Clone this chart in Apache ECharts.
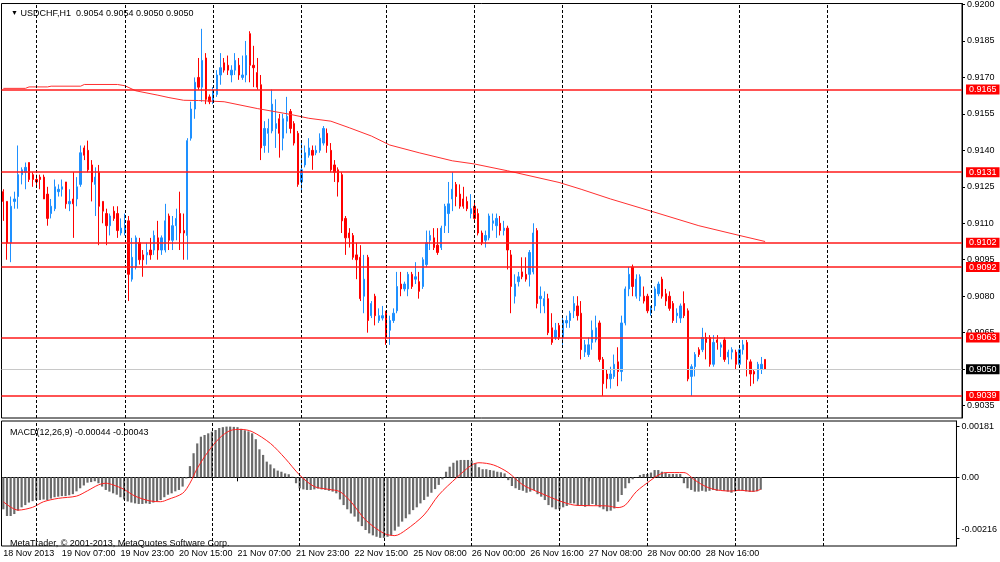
<!DOCTYPE html>
<html>
<head>
<meta charset="utf-8">
<title>USDCHF,H1</title>
<script src="https://cdn.jsdelivr.net/npm/echarts@6.0.0/dist/echarts.min.js"></script>
<style>
html, body { margin: 0; padding: 0; background: #fff; }
#chart { width: 1000px; height: 562px; }
</style>
</head>
<body>
<div id="chart"></div>
<script>
// USDCHF H1, 18 Nov 15:00 .. 29 Nov 2013

var opens = [
	0.9123,0.9119,0.9102,0.9119,0.9121,0.9130,0.9131,0.9135,0.9130,0.9128,
	0.9129,0.9129,0.9122,0.9114,0.9116,0.9123,0.9124,0.9127,0.9118,0.9120,
	0.9120,0.9126,0.9141,0.9140,0.9134,0.9126,0.9131,0.9119,0.9114,0.9109,
	0.9115,0.9114,0.9106,0.9106,0.9111,0.9087,0.9092,0.9102,0.9097,0.9097,
	0.9099,0.9099,0.9104,0.9099,0.9099,0.9113,0.9103,0.9109,0.9114,0.9107,
	0.9105,0.9145,0.9157,0.9170,0.9166,0.9178,0.9162,0.9160,0.9163,0.9171,
	0.9176,0.9175,0.9171,0.9173,0.9175,0.9170,0.9171,0.9188,0.9175,0.9172,
	0.9167,0.9142,0.9147,0.9148,0.9149,0.9153,0.9145,0.9152,0.9156,0.9151,
	0.9147,0.9127,0.9134,0.9138,0.9140,0.9139,0.9140,0.9143,0.9147,0.9140,
	0.9134,0.9132,0.9130,0.9112,0.9106,0.9105,0.9097,0.9096,0.9080,0.9096,
	0.9072,0.9080,0.9070,0.9071,0.9073,0.9066,0.9070,0.9074,0.9085,0.9083,
	0.9083,0.9089,0.9087,0.9086,0.9084,0.9093,0.9103,0.9104,0.9101,0.9100,
	0.9109,0.9114,0.9120,0.9126,0.9122,0.9120,0.9119,0.9114,0.9117,0.9114,
	0.9106,0.9103,0.9104,0.9110,0.9109,0.9110,0.9107,0.9108,0.9097,0.9080,
	0.9086,0.9090,0.9089,0.9089,0.9090,0.9107,0.9079,0.9076,0.9079,0.9067,
	0.9063,0.9068,0.9063,0.9069,0.9070,0.9074,0.9076,0.9073,0.9057,0.9056,
	0.9061,0.9062,0.9069,0.9054,0.9048,0.9046,0.9047,0.9053,0.9049,0.9069,
	0.9083,0.9092,0.9080,0.9080,0.9080,0.9080,0.9073,0.9076,0.9081,0.9087,
	0.9081,0.9080,0.9077,0.9072,0.9071,0.9077,0.9074,0.9047,0.9051,0.9058,
	0.9058,0.9063,0.9063,0.9052,0.9062,0.9059,0.9062,0.9055,0.9057,0.9057,
	0.9052,0.9058,0.9061,0.9053,0.9049,0.9046,0.9050,0.9054
];
var closes = [
	0.9119,0.9102,0.9117,0.9120,0.9130,0.9132,0.9133,0.9128,0.9128,0.9127,
	0.9128,0.9120,0.9112,0.9117,0.9125,0.9124,0.9125,0.9118,0.9119,0.9118,
	0.9125,0.9139,0.9138,0.9132,0.9127,0.9129,0.9117,0.9115,0.9109,0.9113,
	0.9112,0.9107,0.9108,0.9109,0.9089,0.9096,0.9104,0.9095,0.9095,0.9098,
	0.9097,0.9105,0.9099,0.9104,0.9111,0.9103,0.9109,0.9112,0.9106,0.9106,
	0.9144,0.9157,0.9168,0.9166,0.9177,0.9161,0.9160,0.9164,0.9171,0.9174,
	0.9173,0.9173,0.9173,0.9177,0.9171,0.9171,0.9179,0.9175,0.9174,0.9166,
	0.9141,0.9149,0.9149,0.9159,0.9151,0.9147,0.9153,0.9154,0.9149,0.9143,
	0.9126,0.9132,0.9139,0.9141,0.9138,0.9140,0.9145,0.9149,0.9142,0.9132,
	0.9131,0.9127,0.9111,0.9104,0.9104,0.9096,0.9095,0.9079,0.9087,0.9070,
	0.9077,0.9072,0.9072,0.9072,0.9064,0.9070,0.9073,0.9084,0.9083,0.9085,
	0.9089,0.9084,0.9088,0.9082,0.9095,0.9102,0.9105,0.9100,0.9098,0.9108,
	0.9117,0.9118,0.9124,0.9121,0.9117,0.9117,0.9116,0.9116,0.9112,0.9106,
	0.9102,0.9105,0.9113,0.9111,0.9112,0.9107,0.9108,0.9099,0.9084,0.9085,
	0.9088,0.9088,0.9087,0.9098,0.9106,0.9077,0.9080,0.9079,0.9065,0.9061,
	0.9066,0.9063,0.9070,0.9070,0.9073,0.9077,0.9072,0.9058,0.9060,0.9060,
	0.9066,0.9067,0.9054,0.9044,0.9046,0.9048,0.9052,0.9049,0.9069,0.9083,
	0.9089,0.9084,0.9087,0.9088,0.9078,0.9074,0.9075,0.9083,0.9085,0.9080,
	0.9078,0.9075,0.9070,0.9073,0.9076,0.9072,0.9046,0.9051,0.9056,0.9056,
	0.9063,0.9061,0.9052,0.9061,0.9061,0.9060,0.9054,0.9057,0.9058,0.9052,
	0.9058,0.9060,0.9054,0.9048,0.9048,0.9052,0.9052,0.9050
];
var lows = [
	0.9111,0.9095,0.9094,0.9116,0.9116,0.9126,0.9124,0.9127,0.9125,0.9125,
	0.9124,0.9120,0.9109,0.9112,0.9115,0.9121,0.9121,0.9116,0.9115,0.9104,
	0.9117,0.9125,0.9136,0.9131,0.9119,0.9113,0.9101,0.9110,0.9101,0.9105,
	0.9111,0.9104,0.9105,0.9105,0.9078,0.9086,0.9091,0.9093,0.9088,0.9093,
	0.9095,0.9097,0.9095,0.9097,0.9098,0.9099,0.9099,0.9103,0.9099,0.9095,
	0.9095,0.9144,0.9153,0.9165,0.9160,0.9159,0.9159,0.9159,0.9162,0.9167,
	0.9172,0.9171,0.9168,0.9171,0.9169,0.9169,0.9168,0.9168,0.9166,0.9165,
	0.9136,0.9139,0.9139,0.9147,0.9141,0.9137,0.9140,0.9147,0.9147,0.9142,
	0.9125,0.9123,0.9133,0.9137,0.9132,0.9138,0.9139,0.9142,0.9139,0.9131,
	0.9127,0.9121,0.9106,0.9097,0.9100,0.9095,0.9087,0.9078,0.9073,0.9065,
	0.9071,0.9068,0.9069,0.9070,0.9060,0.9060,0.9069,0.9073,0.9080,0.9082,
	0.9080,0.9083,0.9085,0.9079,0.9083,0.9092,0.9099,0.9099,0.9097,0.9099,
	0.9106,0.9106,0.9115,0.9117,0.9116,0.9116,0.9115,0.9112,0.9111,0.9105,
	0.9101,0.9100,0.9103,0.9107,0.9104,0.9105,0.9105,0.9091,0.9073,0.9077,
	0.9084,0.9087,0.9086,0.9084,0.9089,0.9075,0.9073,0.9073,0.9064,0.9060,
	0.9062,0.9062,0.9060,0.9067,0.9067,0.9071,0.9070,0.9054,0.9055,0.9055,
	0.9058,0.9061,0.9053,0.9039,0.9042,0.9042,0.9046,0.9043,0.9045,0.9068,
	0.9080,0.9080,0.9079,0.9078,0.9077,0.9073,0.9072,0.9074,0.9080,0.9079,
	0.9076,0.9074,0.9069,0.9069,0.9069,0.9071,0.9045,0.9039,0.9047,0.9055,
	0.9057,0.9054,0.9051,0.9051,0.9058,0.9055,0.9053,0.9052,0.9054,0.9050,
	0.9051,0.9056,0.9047,0.9043,0.9044,0.9045,0.9048,0.9050
];
var highs = [
	0.9124,0.9119,0.9121,0.9123,0.9142,0.9133,0.9135,0.9135,0.9131,0.9130,
	0.9130,0.9130,0.9125,0.9120,0.9128,0.9126,0.9128,0.9127,0.9124,0.9131,
	0.9129,0.9142,0.9142,0.9144,0.9136,0.9133,0.9134,0.9119,0.9116,0.9114,
	0.9117,0.9117,0.9112,0.9114,0.9113,0.9104,0.9105,0.9104,0.9099,0.9102,
	0.9104,0.9107,0.9111,0.9105,0.9118,0.9114,0.9113,0.9116,0.9123,0.9114,
	0.9145,0.9160,0.9170,0.9178,0.9190,0.9180,0.9163,0.9166,0.9173,0.9180,
	0.9178,0.9179,0.9175,0.9180,0.9178,0.9179,0.9185,0.9189,0.9183,0.9178,
	0.9171,0.9152,0.9153,0.9165,0.9161,0.9155,0.9155,0.9162,0.9157,0.9152,
	0.9148,0.9143,0.9142,0.9145,0.9142,0.9142,0.9147,0.9150,0.9149,0.9143,
	0.9136,0.9133,0.9131,0.9113,0.9108,0.9106,0.9102,0.9101,0.9097,0.9097,
	0.9078,0.9081,0.9075,0.9076,0.9074,0.9072,0.9075,0.9090,0.9090,0.9086,
	0.9090,0.9090,0.9094,0.9090,0.9096,0.9107,0.9107,0.9108,0.9108,0.9109,
	0.9118,0.9127,0.9131,0.9127,0.9126,0.9125,0.9121,0.9122,0.9119,0.9116,
	0.9107,0.9107,0.9114,0.9114,0.9114,0.9113,0.9111,0.9109,0.9099,0.9089,
	0.9090,0.9096,0.9096,0.9099,0.9110,0.9108,0.9084,0.9082,0.9081,0.9073,
	0.9069,0.9069,0.9071,0.9072,0.9074,0.9080,0.9080,0.9078,0.9062,0.9063,
	0.9070,0.9072,0.9070,0.9055,0.9050,0.9051,0.9056,0.9059,0.9072,0.9084,
	0.9092,0.9093,0.9089,0.9089,0.9084,0.9081,0.9076,0.9084,0.9086,0.9088,
	0.9083,0.9082,0.9078,0.9075,0.9077,0.9082,0.9075,0.9052,0.9057,0.9059,
	0.9067,0.9065,0.9064,0.9064,0.9064,0.9061,0.9063,0.9058,0.9059,0.9058,
	0.9060,0.9062,0.9062,0.9054,0.9050,0.9053,0.9055,0.9054
];

// moving average, read at these bars
var maIdx = [0, 6, 7, 12, 13, 21, 22, 31, 33, 36, 42, 45, 49, 53, 60, 69, 78, 83, 89, 94,
	100, 105, 113, 122, 128, 137, 151, 157, 165, 176, 189, 200, 207];
var maVal = [0.91655, 0.91655, 0.91661, 0.91661, 0.91664, 0.91664, 0.91671, 0.91671, 0.91666, 0.91645,
	0.91627, 0.91617, 0.91606, 0.91605, 0.91600, 0.91572, 0.91548, 0.91532, 0.91520, 0.91493,
	0.91459, 0.91422, 0.91390, 0.91357, 0.91344, 0.91316, 0.91268, 0.91240, 0.91200, 0.91150,
	0.91090, 0.91050, 0.91025];

// MACD(12,26,9) main line as histogram
var macdHist = [
	-0.00114,-0.00138,-0.00138,-0.00131,-0.00119,-0.00107,-0.00099,-0.00090,-0.00085,-0.00081,
	-0.00081,-0.00079,-0.00081,-0.00076,-0.00071,-0.00069,-0.00067,-0.00067,-0.00064,-0.00060,
	-0.00050,-0.00039,-0.00029,-0.00019,-0.00017,-0.00014,-0.00021,-0.00033,-0.00045,-0.00051,
	-0.00057,-0.00062,-0.00071,-0.00079,-0.00086,-0.00090,-0.00093,-0.00095,-0.00095,-0.00093,
	-0.00095,-0.00090,-0.00086,-0.00081,-0.00071,-0.00062,-0.00057,-0.00050,-0.00045,-0.00033,
	-0.00004,0.00040,0.00086,0.00121,0.00145,0.00151,0.00157,0.00163,0.00169,0.00176,
	0.00179,0.00181,0.00181,0.00180,0.00179,0.00173,0.00168,0.00164,0.00157,0.00136,
	0.00100,0.00080,0.00056,0.00046,0.00032,0.00024,0.00020,0.00014,0.00011,0.00002,
	-0.00021,-0.00039,-0.00043,-0.00045,-0.00045,-0.00043,-0.00040,-0.00043,-0.00045,-0.00048,
	-0.00051,-0.00057,-0.00079,-0.00099,-0.00114,-0.00129,-0.00140,-0.00158,-0.00174,-0.00188,
	-0.00200,-0.00207,-0.00212,-0.00216,-0.00216,-0.00212,-0.00206,-0.00190,-0.00176,-0.00158,
	-0.00146,-0.00132,-0.00117,-0.00107,-0.00093,-0.00081,-0.00069,-0.00055,-0.00042,-0.00027,
	-0.00007,0.00020,0.00038,0.00052,0.00060,0.00062,0.00062,0.00062,0.00060,0.00050,
	0.00036,0.00029,0.00029,0.00026,0.00024,0.00020,0.00018,0.00014,-0.00010,-0.00031,
	-0.00039,-0.00045,-0.00048,-0.00055,-0.00051,-0.00045,-0.00060,-0.00069,-0.00081,-0.00099,
	-0.00107,-0.00114,-0.00114,-0.00107,-0.00102,-0.00093,-0.00093,-0.00102,-0.00102,-0.00105,
	-0.00102,-0.00095,-0.00099,-0.00107,-0.00114,-0.00121,-0.00119,-0.00111,-0.00087,-0.00063,
	-0.00039,-0.00021,-0.00007,0.00001,0.00008,0.00012,0.00012,0.00017,0.00026,0.00026,
	0.00020,0.00017,0.00012,0.00012,0.00012,0.00012,-0.00021,-0.00039,-0.00045,-0.00051,
	-0.00051,-0.00048,-0.00051,-0.00048,-0.00045,-0.00048,-0.00045,-0.00048,-0.00051,-0.00055,
	-0.00050,-0.00048,-0.00048,-0.00050,-0.00052,-0.00052,-0.00050,-0.00044
];

// signal line, read at these bars
var sigIdx = [0, 4, 8, 11, 15, 20, 23, 26, 28, 30, 33, 36, 40, 43, 45, 49, 51, 53, 56, 59,
	62, 65, 68, 73, 77, 81, 85, 89, 92, 95, 99, 104, 107, 110, 115, 119, 124, 128, 130, 134,
	138, 142, 147, 152, 156, 160, 165, 168, 170, 173, 177, 179, 181, 186, 189, 192, 195, 199, 201, 205, 207];
var sigVal = [-0.00087, -0.00117, -0.00107, -0.00087, -0.00075, -0.00067, -0.00048, -0.00027, -0.00021, -0.00027,
	-0.00043, -0.00067, -0.00084, -0.00087, -0.00079, -0.00057, -0.00021, 0.00032, 0.00092, 0.00139,
	0.00167, 0.00171, 0.00163, 0.00121, 0.00068, 0.00008, -0.00033, -0.00043, -0.00051, -0.00087,
	-0.00152, -0.00200, -0.00208, -0.00188, -0.00134, -0.00063, 0.00000, 0.00044, 0.00052, 0.00044,
	0.00017, -0.00027, -0.00057, -0.00084, -0.00099, -0.00101, -0.00102, -0.00108, -0.00099, -0.00051,
	-0.00010, 0.00008, 0.00017, 0.00017, -0.00010, -0.00033, -0.00045, -0.00049, -0.00046, -0.00050, -0.00043];

var levels = [0.9165, 0.9131, 0.9102, 0.9092, 0.9063, 0.9039];
var bid = 0.9050;
var priceTicks = [0.9200, 0.9185, 0.9170, 0.9155, 0.9140, 0.9125, 0.9110, 0.9095, 0.9080, 0.9065, 0.9050, 0.9035];
var macdTicks = [0.00181, 0, -0.00216];
var daySeps = [9, 33, 57, 81, 104, 128, 152, 176, 200, 224];
var timeLabels = ['18 Nov 2013', '19 Nov 07:00', '19 Nov 23:00', '20 Nov 15:00', '21 Nov 07:00',
	'21 Nov 23:00', '22 Nov 15:00', '25 Nov 08:00', '26 Nov 00:00', '26 Nov 16:00',
	'27 Nov 08:00', '28 Nov 00:00', '28 Nov 16:00'];
var labelStep = 16;
var slotCount = 261; // bars plus empty space to the right

var slots = [];
for (var i = 0; i < slotCount; i++) {
	slots.push(i);
}
var candles = opens.map(function(o, i) {
	return [o, closes[i], lows[i], highs[i]];
});
var maData = maIdx.map(function(x, i) { return [x, maVal[i]]; });
var sigData = sigIdx.map(function(x, i) { return [x, sigVal[i]]; });

var font = 'Liberation Sans';
var sepLine = { color: '#000', width: 1, type: [3, 2] };

//horizontal levels go on the MA line series, day separators on the candles
var levelMarks = levels.map(function(v) {
	return {
		yAxis: v,
		lineStyle: { color: '#ff1a1a', width: 1.5, type: 'solid' },
		label: { show: true, position: 'end', distance: 4, formatter: v.toFixed(4),
			color: '#fff', backgroundColor: '#ff0000', padding: [1, 3, 0, 3],
			fontFamily: font, fontSize: 9 }
	};
});
levelMarks.unshift({
	yAxis: bid,
	lineStyle: { color: '#c8c8c8', width: 1, type: 'solid' },
	label: { show: true, position: 'end', distance: 4, formatter: bid.toFixed(4),
		color: '#fff', backgroundColor: '#000', padding: [1, 3, 0, 3],
		fontFamily: font, fontSize: 9 }
});
var sepMarks = daySeps.map(function(x) {
	return { xAxis: x, lineStyle: sepLine, label: { show: false } };
});

var chart = echarts.init(document.getElementById('chart'), null, { renderer: 'canvas' });
chart.setOption({
	animation: false,
	backgroundColor: '#fff',
	title: [{
		text: '{t|▼} USDCHF,H1  0.9054 0.9054 0.9050 0.9050',
		left: 6, top: 4,
		textStyle: { fontFamily: font, fontSize: 9, fontWeight: 'normal', color: '#000',
			rich: { t: { fontSize: 7, color: '#000' } } }
	}, {
		text: 'MACD(12,26,9) -0.00044 -0.00043',
		left: 5, top: 423,
		textStyle: { fontFamily: font, fontSize: 9, fontWeight: 'normal', color: '#000' }
	}, {
		text: 'MetaTrader, © 2001-2013, MetaQuotes Software Corp.',
		left: 5, top: 534,
		textStyle: { fontFamily: font, fontSize: 9, fontWeight: 'normal', color: '#000' }
	}],
	grid: [
		{ left: 1.5, right: 38, top: 2, height: 416, show: true, borderColor: '#000', borderWidth: 1 },
		{ left: 1.5, right: 38, top: 421, height: 125, show: true, borderColor: '#000', borderWidth: 1 }
	],
	xAxis: [{
		type: 'category', gridIndex: 0, data: slots, boundaryGap: true,
		axisLine: { show: false }, axisTick: { show: false }, axisLabel: { show: false },
		splitLine: { show: false }
	}, {
		type: 'category', gridIndex: 1, data: slots, boundaryGap: true,
		axisLine: { show: true, lineStyle: { color: '#000', width: 1 } },
		axisTick: {
			show: true, alignWithLabel: true, length: 4, lineStyle: { color: '#000' },
			interval: function(i) { return i % labelStep === 0 && i / labelStep < timeLabels.length; }
		},
		axisLabel: {
			show: true, align: 'left', margin: 3, color: '#000', fontFamily: font, fontSize: 9,
			interval: function(i) { return i % labelStep === 0 && i / labelStep < timeLabels.length; },
			formatter: function(v, i) { return timeLabels[i / labelStep] || ''; }
		},
		splitLine: { show: false }
	}],
	yAxis: [{
		type: 'value', gridIndex: 0, position: 'right', min: 0.90299, max: 0.92004,
		axisLine: { show: true, lineStyle: { color: '#000' } },
		axisTick: { show: true, length: 3, customValues: priceTicks, lineStyle: { color: '#000' } },
		axisLabel: { show: true, margin: 5, color: '#000', fontFamily: font, fontSize: 9,
			customValues: priceTicks,
			formatter: function(v) { return v.toFixed(4); } },
		splitLine: { show: false }
	}, {
		type: 'value', gridIndex: 1, position: 'right', min: -0.00245, max: 0.00201,
		axisLine: { show: true, lineStyle: { color: '#000' } },
		axisTick: { show: true, length: 3, customValues: macdTicks, lineStyle: { color: '#000' } },
		axisLabel: { show: true, margin: 5, color: '#000', fontFamily: font, fontSize: 9,
			customValues: macdTicks,
			formatter: function(v) {
				if (v === 0) return '0.00';
				if (v < -0.002) return '{lo|' + v.toFixed(5) + '}';
				return v.toFixed(5);
			},
			rich: { lo: { fontFamily: font, fontSize: 9, color: '#000', padding: [0, 0, 16, 0] } } },
		splitLine: { show: false }
	}],
	series: [{
		name: 'USDCHF', type: 'candlestick', xAxisIndex: 0, yAxisIndex: 0,
		data: candles, barWidth: 1.8,
		itemStyle: { color: '#1e90ff', color0: '#ff0000', borderColor: '#1e90ff', borderColor0: '#ff0000', borderWidth: 1 },
		markLine: { silent: true, symbol: ['none', 'none'], animation: false, data: sepMarks }
	}, {
		name: 'MA', type: 'line', xAxisIndex: 0, yAxisIndex: 0,
		data: maData, showSymbol: false, symbol: 'none',
		lineStyle: { color: '#ff3030', width: 1 },
		markLine: { silent: true, symbol: ['none', 'none'], animation: false, precision: 5, data: levelMarks }
	}, {
		name: 'MACD', type: 'bar', xAxisIndex: 1, yAxisIndex: 1,
		data: macdHist, barWidth: 2.2,
		itemStyle: { color: '#6a6a6a' },
		markLine: { silent: true, symbol: ['none', 'none'], animation: false, data: sepMarks }
	}, {
		name: 'Signal', type: 'line', xAxisIndex: 1, yAxisIndex: 1,
		data: sigData, showSymbol: false, symbol: 'none', smooth: 0.3,
		lineStyle: { color: '#ff2020', width: 1 }
	}]
});
</script>
</body>
</html>
